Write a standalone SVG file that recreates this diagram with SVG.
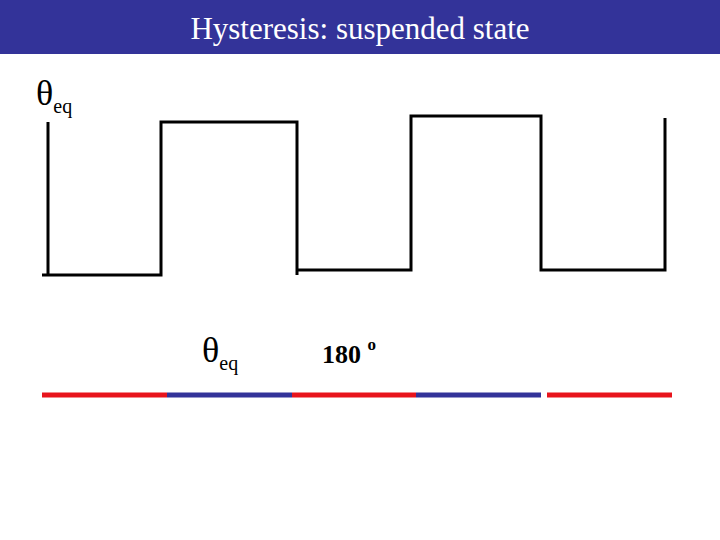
<svg xmlns="http://www.w3.org/2000/svg" width="720" height="540" viewBox="0 0 720 540">
<style>
.w{fill:none;stroke:#000;stroke-width:3}
.t{font-family:"Liberation Serif","DejaVu Serif",serif;fill:#000}
.r{stroke:#e8141c;stroke-width:5}
.b{stroke:#333399;stroke-width:5}
</style>
<rect width="720" height="540" fill="#fff"/>
<g id="header"><rect x="0" y="0" width="720" height="54" fill="#333399"/>
<text x="360" y="39" text-anchor="middle" class="t" style="fill:#fff;font-size:31px">Hysteresis: suspended state</text></g>
<g id="connectors">
<path class="w" d="M48 122V275M42 275H80M48 275H161V122H297V275M297 270H411V116H541V270H665V118"/>
<line class="r" x1="42" y1="395" x2="167" y2="395"/>
<line class="b" x1="167" y1="395" x2="292" y2="395"/>
<line class="r" x1="292" y1="395" x2="416" y2="395"/>
<line class="b" x1="416" y1="395" x2="541" y2="395"/>
<line class="r" x1="547" y1="395" x2="672" y2="395"/>
</g>
<g id="label1"><text x="36" y="105" class="t" style="font-size:36px">θ<tspan font-size="20" dy="8">eq</tspan></text></g>
<g id="label2"><text x="202" y="362" class="t" style="font-size:36px">θ<tspan font-size="20" dy="8">eq</tspan></text></g>
<g id="label3"><text x="322" y="363" class="t" style="font-size:26px;font-weight:bold">180 <tspan font-size="17" dy="-13">o</tspan></text></g>
</svg>
